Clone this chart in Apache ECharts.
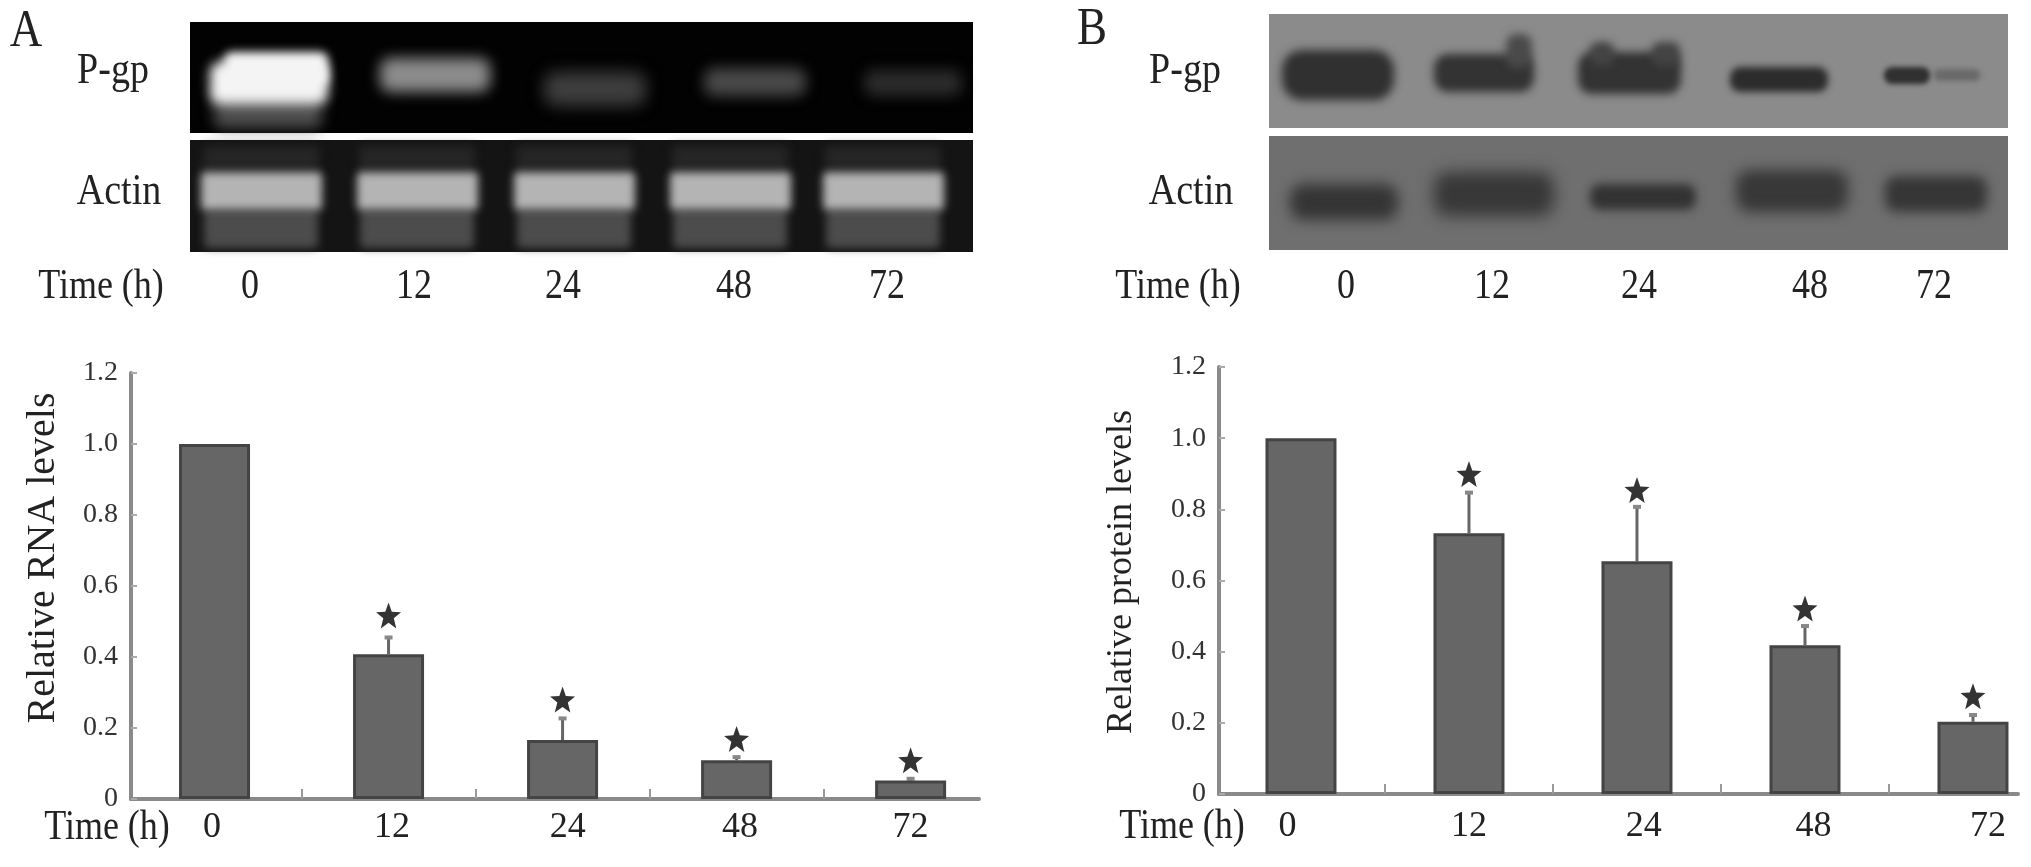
<!DOCTYPE html>
<html>
<head>
<meta charset="utf-8">
<title>P-gp levels</title>
<script src="https://cdn.jsdelivr.net/npm/echarts@6/dist/echarts.min.js"></script>
<style>
  html, body { margin: 0; padding: 0; background: #fff; }
  #chart { width: 2031px; height: 867px; }
</style>
</head>
<body>
<div id="chart"></div>
<script>
const timeLabels = ['0', '12', '24', '48', '72']
const barSlots = [0, 1, 2, 3, 4]
const tickSlots = [0.5, 1.5, 2.5, 3.5]

// panel A, relative RNA
const rnaValues = [1.0, 0.408, 0.166, 0.109, 0.052]
const rnaErrorTops = [null, 0.455, 0.227, 0.118, 0.057]
const rnaStars = [null, 0.517, 0.28, 0.169, 0.109]
const rnaLabelSlots = [-0.015, 1.02, 2.03, 3.02, 4.0]

// panel B, relative protein
const proteinValues = [1.0, 0.733, 0.654, 0.418, 0.203]
const proteinErrorTops = [null, 0.847, 0.807, 0.472, 0.222]
const proteinStars = [null, 0.899, 0.854, 0.521, 0.275]
const proteinLabelSlots = [-0.08, 1.0, 2.04, 3.05, 4.09]

const FONT = '"Liberation Serif", serif'
const STAR = 'path://M50 0 L63 36 L100 38 L71 61 L81 100 L50 78 L19 100 L29 61 L0 38 L37 36 Z'
const OFF = 4000

let chart = echarts.init(document.getElementById('chart'))

// blurred gel band: only the shadow of an off-screen rect lands on the page
function band(x, y, w, h, color, blur, r) {
  return {
    type: 'rect', silent: true,
    shape: { x: x - OFF, y: y, width: w, height: h, r: r === undefined ? h / 2 : r },
    style: { fill: color, shadowColor: color, shadowBlur: blur, shadowOffsetX: OFF }
  }
}
function box(x, y, w, h, fill) {
  return { type: 'rect', silent: true, shape: { x: x, y: y, width: w, height: h }, style: { fill: fill } }
}
function label(text, x, y, size, opts) {
  return Object.assign({
    type: 'text', silent: true, x: x, y: y, scaleY: 1.15,
    style: { text: text, font: size + 'px ' + FONT, fill: '#222', align: 'center', verticalAlign: 'middle' }
  }, opts || {})
}

function gelPanels() {
  let els = []
  // A, P-gp
  els.push(box(190, 22, 783, 111, '#020202'))
  els.push(band(214, 90, 108, 38, '#505050', 14, 8))
  els.push(band(210, 62, 118, 42, '#f4f4f4', 12, 10))
  els.push(band(224, 52, 104, 34, '#f4f4f4', 10, 8))
  els.push(band(380, 58, 110, 34, '#8c8c8c', 14, 10))
  els.push(band(544, 72, 102, 34, '#3e3e3e', 16, 12))
  els.push(band(704, 68, 102, 28, '#494949', 14, 10))
  els.push(band(864, 70, 98, 26, '#2c2c2c', 14, 10))
  // A, Actin
  els.push(box(190, 140, 783, 112, '#141414'))
  ;[201, 357, 514, 670, 823].forEach(function (x) {
    els.push(band(x + 2, 146, 116, 24, '#262626', 10, 4))
    els.push(band(x + 3, 210, 114, 38, '#4c4c4c', 8, 4))
    els.push(band(x, 172, 121, 38, '#b4b4b4', 8, 4))
  })
  // B, P-gp
  els.push(box(1269, 14, 739, 114, '#8b8b8b'))
  els.push(band(1282, 50, 112, 50, '#303030', 10, 20))
  els.push(band(1434, 54, 100, 38, '#333333', 9, 14))
  els.push(band(1506, 34, 26, 34, '#4a4a4a', 8, 10))
  els.push(band(1578, 52, 103, 42, '#333333', 9, 14))
  els.push(band(1590, 42, 24, 24, '#444444', 8, 8))
  els.push(band(1652, 42, 28, 24, '#444444', 8, 8))
  els.push(band(1730, 67, 98, 25, '#2c2c2c', 7, 10))
  els.push(band(1934, 69, 46, 12, '#6a6a6a', 5, 5))
  els.push(band(1884, 67, 46, 17, '#303030', 5, 8))
  // B, Actin
  els.push(box(1269, 136, 739, 114, '#6f6f6f'))
  els.push(band(1290, 184, 108, 36, '#353535', 14, 14))
  els.push(band(1434, 172, 120, 44, '#383838', 16, 14))
  els.push(band(1590, 184, 106, 26, '#333333', 10, 10))
  els.push(band(1736, 170, 112, 42, '#383838', 14, 14))
  els.push(band(1885, 176, 102, 36, '#363636', 12, 12))
  // side labels
  els.push(label('A', 26, 32, 45))
  els.push(label('B', 1092, 30, 45))
  els.push(label('P-gp', 113, 72, 38))
  els.push(label('Actin', 119, 193, 38))
  els.push(label('P-gp', 1185, 72, 38))
  els.push(label('Actin', 1191, 193, 38))
  els.push(label('Time (h)', 101, 287, 36))
  els.push(label('Time (h)', 1178, 287, 36))
  ;[250, 414, 563, 734, 887].forEach(function (x, i) {
    els.push(label(timeLabels[i], x, 287, 36))
  })
  ;[1346, 1492, 1639, 1810, 1934].forEach(function (x, i) {
    els.push(label(timeLabels[i], x, 287, 36))
  })
  // bar chart titles
  els.push(label('Time (h)', 107, 828, 36))
  els.push(label('Time (h)', 1182, 827, 36))
  els.push(label('Relative RNA levels', 43, 558, 40, { rotation: Math.PI / 2, scaleY: 1 }))
  els.push(label('Relative protein levels', 1122, 572, 36, { rotation: Math.PI / 2, scaleY: 1 }))
  return els
}

function xAxisFor(gridIndex, min, max, labelSlots, margin) {
  return {
    gridIndex: gridIndex, type: 'value', min: min, max: max,
    splitLine: { show: false },
    axisLine: { lineStyle: { color: '#8a8a8a', width: 4 } },
    axisTick: {
      show: true, inside: true, length: 10, customValues: tickSlots,
      lineStyle: { color: '#999', width: 2 }
    },
    axisLabel: {
      customValues: labelSlots, margin: margin, color: '#222',
      fontFamily: FONT, fontSize: 36,
      formatter: function (v) { return timeLabels[labelSlots.indexOf(v)] }
    }
  }
}
function yAxisFor(gridIndex) {
  return {
    gridIndex: gridIndex, type: 'value', min: 0, max: 1.2, interval: 0.2,
    splitLine: { show: false },
    axisLine: { show: true, onZero: false, lineStyle: { color: '#8a8a8a', width: 4 } },
    axisTick: { show: true, inside: true, length: 6, lineStyle: { color: '#aaa', width: 2 } },
    axisLabel: {
      margin: 13, color: '#333', fontFamily: FONT, fontSize: 28,
      formatter: function (v) { return v === 0 ? '0' : v.toFixed(1) }
    }
  }
}

function panelSeries(idx, values, errorTops, stars) {
  return [
    {
      type: 'custom', xAxisIndex: idx, yAxisIndex: idx, z: 2,
      data: barSlots.map(function (s, i) { return [s, values[i], errorTops[i]] })
        .filter(function (d) { return d[2] !== null }),
      renderItem: function (params, api) {
        let low = api.coord([api.value(0), api.value(1)])
        let high = api.coord([api.value(0), api.value(2)])
        return {
          type: 'group',
          children: [
            { type: 'line', shape: { x1: low[0], y1: low[1], x2: high[0], y2: high[1] }, style: { stroke: '#666', lineWidth: 3 } },
            { type: 'line', shape: { x1: low[0] - 4, y1: high[1], x2: low[0] + 4, y2: high[1] }, style: { stroke: '#888', lineWidth: 4 } }
          ]
        }
      }
    },
    {
      type: 'bar', xAxisIndex: idx, yAxisIndex: idx, z: 3, barWidth: 71,
      data: barSlots.map(function (s, i) { return [s, values[i]] }),
      itemStyle: { color: '#666', borderColor: '#444', borderWidth: 3 }
    },
    {
      type: 'scatter', xAxisIndex: idx, yAxisIndex: idx, z: 4,
      symbol: STAR, symbolSize: [25, 26],
      data: barSlots.map(function (s, i) { return [s, stars[i]] }).filter(function (d) { return d[1] !== null }),
      itemStyle: { color: '#000' }
    }
  ]
}

let options = {
  backgroundColor: '#fff',
  animation: false,
  grid: [
    { left: 131, top: 373, width: 848, height: 426 },
    { left: 1219, top: 367, width: 799, height: 427 }
  ],
  xAxis: [
    xAxisFor(0, -0.48, 4.393, rnaLabelSlots, 11),
    xAxisFor(1, -0.488, 4.268, proteinLabelSlots, 15)
  ],
  yAxis: [yAxisFor(0), yAxisFor(1)],
  series: panelSeries(0, rnaValues, rnaErrorTops, rnaStars)
    .concat(panelSeries(1, proteinValues, proteinErrorTops, proteinStars)),
  graphic: { elements: gelPanels() }
}
chart.setOption(options)
</script>
</body>
</html>
